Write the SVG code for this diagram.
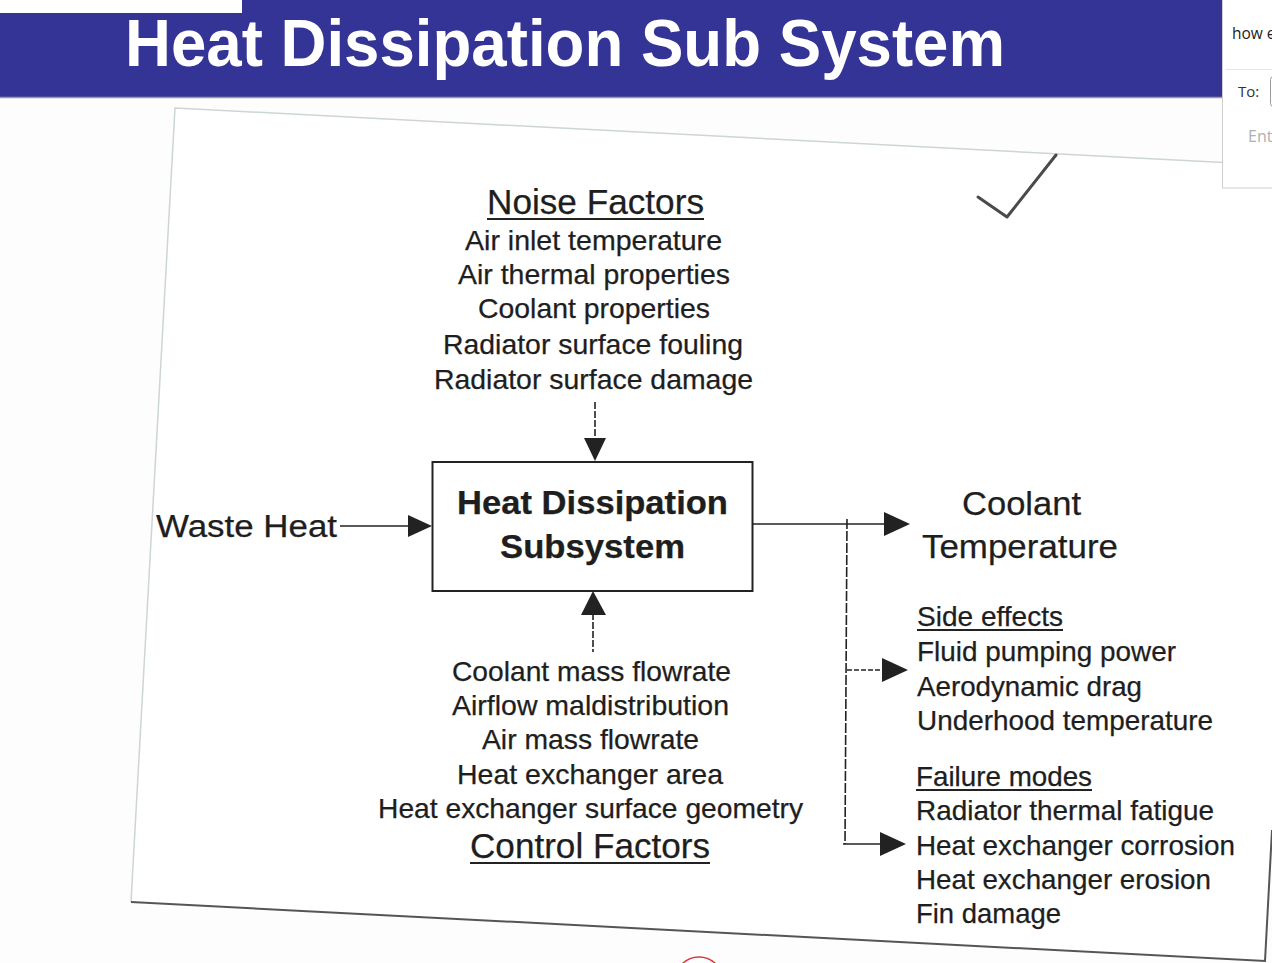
<svg xmlns="http://www.w3.org/2000/svg" width="1272" height="963" viewBox="0 0 1272 963">
<defs>
<style>
.t{font-family:"Liberation Sans",Arial,sans-serif;fill:#1e1e1e;stroke:#1e1e1e;stroke-width:0.25;}
.s28{font-size:28px;}
.s35{font-size:35px;}
.s34{font-size:34px;}
.b{font-weight:bold;font-size:33px;}
.ln{stroke:#222;stroke-width:1.6;fill:none;}
.ul{stroke:#222;stroke-width:2;}
.hd{fill:#222;}
.ui{font-family:"Open Sans","Liberation Sans",sans-serif;}
</style>
</defs>
<rect x="0" y="0" width="1272" height="963" fill="#fdfdfd"/>
<!-- scanned page -->
<g id="page">
<polygon points="175,108 1272,165 1272,830 1265,961 131,902" fill="#ffffff"/>
<polyline points="131,902 175,108 1272,165" fill="none" stroke="#cdd5d5" stroke-width="1.5"/>
<polyline points="131,902 1265,961 1272,830" fill="none" stroke="#555" stroke-width="2"/>
<polyline points="978,197 1007,217 1056,155" fill="none" stroke="#4a4a4a" stroke-width="3" stroke-linejoin="round" stroke-linecap="round"/>
<circle cx="699" cy="981" r="24" fill="none" stroke="#d33" stroke-width="1.5"/>
</g>
<!-- header -->
<g id="header">
<rect x="0" y="0" width="1222" height="97" fill="#343497"/>
<line x1="0" y1="97.5" x2="1222" y2="97.5" stroke="#9a9a9a" stroke-width="1.5"/>
<rect x="0" y="0" width="242" height="13" fill="#ffffff"/>
<text x="125" y="66" font-family="'Liberation Sans',Arial,sans-serif" font-weight="bold" font-size="66" fill="#ffffff" textLength="880" lengthAdjust="spacingAndGlyphs">Heat Dissipation Sub System</text>
</g>
<!-- side panel -->
<g id="panel">
<rect x="1222.5" y="-1" width="52" height="189" fill="#ffffff" stroke="#cfcfcf" stroke-width="1"/>
<text class="ui" x="1232" y="39" font-size="15.5" fill="#222">how e</text>
<line x1="1226" y1="69.5" x2="1272" y2="69.5" stroke="#e4e4e4" stroke-width="1"/>
<text class="ui" x="1238" y="97" font-size="15" fill="#333">To:</text>
<rect x="1270.5" y="76.5" width="20" height="30" rx="3" fill="#fff" stroke="#9a9a9a"/>
<text class="ui" x="1248" y="142" font-size="16" fill="#b0b0b0">Ent</text>
</g>
<!-- nodes -->
<g id="noise">
<text class="t s35" x="487" y="214" textLength="217" lengthAdjust="spacingAndGlyphs">Noise Factors</text>
<line class="ul" x1="487" y1="219" x2="704" y2="219"/>
<text class="t s28" x="465" y="250" textLength="257" lengthAdjust="spacingAndGlyphs">Air inlet temperature</text>
<text class="t s28" x="458" y="284" textLength="272" lengthAdjust="spacingAndGlyphs">Air thermal properties</text>
<text class="t s28" x="478" y="318" textLength="232" lengthAdjust="spacingAndGlyphs">Coolant properties</text>
<text class="t s28" x="443" y="354" textLength="300" lengthAdjust="spacingAndGlyphs">Radiator surface fouling</text>
<text class="t s28" x="434" y="389" textLength="319" lengthAdjust="spacingAndGlyphs">Radiator surface damage</text>
</g>
<g id="waste">
<text class="t" x="156" y="537" font-size="31" textLength="181" lengthAdjust="spacingAndGlyphs">Waste Heat</text>
</g>
<g id="subsystem">
<rect x="432.5" y="462" width="320" height="129" fill="none" stroke="#222" stroke-width="2"/>
<text class="t b" x="457" y="514" textLength="271" lengthAdjust="spacingAndGlyphs">Heat Dissipation</text>
<text class="t b" x="500" y="558" textLength="185" lengthAdjust="spacingAndGlyphs">Subsystem</text>
</g>
<g id="control">
<text class="t s28" x="452" y="681" textLength="279" lengthAdjust="spacingAndGlyphs">Coolant mass flowrate</text>
<text class="t s28" x="452" y="715" textLength="277" lengthAdjust="spacingAndGlyphs">Airflow maldistribution</text>
<text class="t s28" x="482" y="749" textLength="217" lengthAdjust="spacingAndGlyphs">Air mass flowrate</text>
<text class="t s28" x="457" y="784" textLength="266" lengthAdjust="spacingAndGlyphs">Heat exchanger area</text>
<text class="t s28" x="378" y="818" textLength="425" lengthAdjust="spacingAndGlyphs">Heat exchanger surface geometry</text>
<text class="t s35" x="470" y="858" textLength="240" lengthAdjust="spacingAndGlyphs">Control Factors</text>
<line class="ul" x1="470" y1="863" x2="710" y2="863"/>
</g>
<g id="coolant">
<text class="t s34" x="962" y="515" textLength="119" lengthAdjust="spacingAndGlyphs">Coolant</text>
<text class="t s34" x="922" y="558" textLength="196" lengthAdjust="spacingAndGlyphs">Temperature</text>
</g>
<g id="side">
<text class="t s28" x="917" y="626" textLength="146" lengthAdjust="spacingAndGlyphs">Side effects</text>
<line class="ul" x1="917" y1="630" x2="1063" y2="630"/>
<text class="t s28" x="917" y="661" textLength="259" lengthAdjust="spacingAndGlyphs">Fluid pumping power</text>
<text class="t s28" x="917" y="696" textLength="225" lengthAdjust="spacingAndGlyphs">Aerodynamic drag</text>
<text class="t s28" x="917" y="730" textLength="296" lengthAdjust="spacingAndGlyphs">Underhood temperature</text>
</g>
<g id="failure">
<text class="t s28" x="916" y="786" textLength="176" lengthAdjust="spacingAndGlyphs">Failure modes</text>
<line class="ul" x1="916" y1="790" x2="1092" y2="790"/>
<text class="t s28" x="916" y="820" textLength="298" lengthAdjust="spacingAndGlyphs">Radiator thermal fatigue</text>
<text class="t s28" x="916" y="855" textLength="319" lengthAdjust="spacingAndGlyphs">Heat exchanger corrosion</text>
<text class="t s28" x="916" y="889" textLength="295" lengthAdjust="spacingAndGlyphs">Heat exchanger erosion</text>
<text class="t s28" x="916" y="923" textLength="145" lengthAdjust="spacingAndGlyphs">Fin damage</text>
</g>
<!-- connectors -->
<g id="connectors">
<line class="ln" x1="595" y1="402" x2="595" y2="440" stroke-dasharray="7,2"/>
<polygon class="hd" points="584,438 606,438 595,461"/>
<line class="ln" x1="340" y1="526" x2="410" y2="526"/>
<polygon class="hd" points="408,515 432,526 408,537"/>
<line class="ln" x1="593" y1="613" x2="593" y2="652" stroke-dasharray="7,2"/>
<polygon class="hd" points="581,615 606,615 593,591"/>
<line class="ln" x1="752" y1="524" x2="886" y2="524"/>
<polygon class="hd" points="884,512 910,524 884,536"/>
<line class="ln" x1="847" y1="519" x2="845" y2="844" stroke-dasharray="10,2"/>
<line class="ln" x1="847" y1="670" x2="884" y2="670" stroke-dasharray="5,2"/>
<polygon class="hd" points="882,658 908,670 882,682"/>
<line class="ln" x1="843" y1="844" x2="882" y2="844"/>
<polygon class="hd" points="880,832 906,844 880,856"/>
</g>
</svg>
